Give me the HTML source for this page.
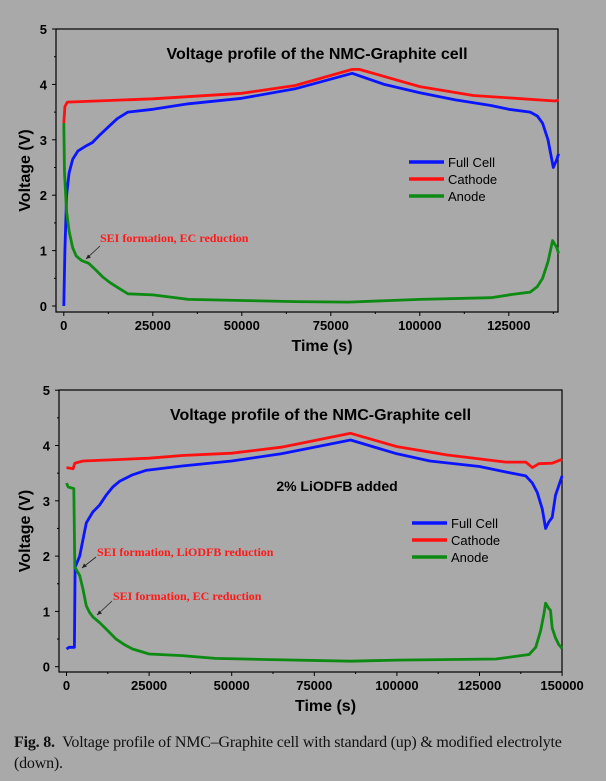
<!DOCTYPE html>
<html><head><meta charset="utf-8"><style>
body{margin:0;background:#a9a9a9;width:606px;height:781px;overflow:hidden}
svg{position:absolute;left:0;top:0}
.cap{position:absolute;left:14px;top:732px;width:585px;font:16px "Liberation Serif",serif;line-height:21px;color:#111;letter-spacing:-0.2px}
</style></head><body>
<svg id="s" width="606" height="781"></svg>
<div class="cap"><b>Fig. 8.</b>&nbsp; Voltage profile of NMC–Graphite cell with standard (up) &amp; modified electrolyte (down).</div>
<script>
const yTicks=[0,1,2,3,4,5];
const xTicksTop=[0,25000,50000,75000,100000,125000];
const xTicksBot=[0,25000,50000,75000,100000,125000,150000];
const topFullT=[0,300,800,1500,2500,4000,6000,8000,10000,12000,15000,18000,25000,35000,50000,65000,81000,90000,100000,110000,120000,125000,131000,133000,134500,136000,137500,138500,139000];
const topFullV=[0,1.0,2.0,2.4,2.65,2.8,2.88,2.95,3.08,3.2,3.38,3.5,3.55,3.65,3.75,3.92,4.2,4.0,3.85,3.72,3.62,3.55,3.5,3.43,3.3,3.0,2.5,2.65,2.75];
const topCathT=[0,300,1000,25000,50000,65000,81000,83000,100000,115000,138000,139000];
const topCathV=[3.3,3.6,3.68,3.74,3.84,3.98,4.27,4.27,3.96,3.8,3.7,3.72];
const topAnT=[0,200,800,1500,2500,3500,5000,7000,9000,11000,13000,15500,18000,25000,35000,50000,65000,80000,100000,120000,126000,131000,133000,134500,136000,137300,138500,139000];
const topAnV=[3.3,2.4,1.7,1.35,1.05,0.9,0.82,0.77,0.65,0.52,0.42,0.32,0.22,0.2,0.12,0.1,0.08,0.07,0.12,0.15,0.21,0.25,0.35,0.5,0.8,1.18,1.05,0.95];
const botFullT=[0,800,2400,2600,4000,5000,6000,8000,10000,12000,14000,16000,20000,24000,35000,50000,65000,86000,100000,110000,125000,133000,139000,141000,142500,144000,145000,146000,147000,148000,150000];
const botFullV=[0.32,0.35,0.35,1.8,2.0,2.3,2.6,2.8,2.92,3.1,3.25,3.35,3.47,3.55,3.63,3.72,3.85,4.1,3.85,3.72,3.62,3.52,3.45,3.32,3.15,2.85,2.5,2.62,2.7,3.1,3.45];
const botCathT=[0,2000,2500,5000,25000,35000,50000,65000,86000,100000,115000,133000,139000,141000,143000,147000,150000];
const botCathV=[3.6,3.58,3.68,3.72,3.77,3.82,3.86,3.97,4.22,3.98,3.83,3.7,3.7,3.6,3.67,3.68,3.75];
const botAnT=[0,500,2200,2500,4000,5000,6000,7000,8000,10000,12500,15000,17500,20000,25000,35000,45000,60000,86000,100000,130000,140000,142000,143500,144500,145000,146000,146500,147000,148000,149000,150000];
const botAnV=[3.32,3.25,3.22,1.8,1.65,1.4,1.1,0.98,0.9,0.8,0.65,0.5,0.4,0.32,0.23,0.2,0.15,0.13,0.1,0.12,0.14,0.22,0.35,0.65,0.95,1.15,1.05,1.02,0.7,0.52,0.4,0.33];

const S=document.getElementById('s');const NS='http://www.w3.org/2000/svg';
function mk(tag,at,txt){const e=document.createElementNS(NS,tag);for(const k in at)e.setAttribute(k,at[k]);if(txt!==undefined)e.textContent=txt;S.appendChild(e);return e;}
const SANS='font-family:"Liberation Sans",sans-serif;font-weight:bold;';
function chart(c){
 const X=t=>c.x0+(t/25000)*c.px25, Y=v=>c.y0-v*c.pv;
 const frame=mk('rect',{x:c.L,y:c.T,width:c.R-c.L,height:c.B-c.T,fill:'none',stroke:'#000','stroke-width':1.2});
 
 
 yTicks.forEach(v=>{const y=Y(v);mk('line',{x1:c.L-4,x2:c.L,y1:y,y2:y,stroke:'#000'});
  if(v<5)mk('line',{x1:c.L-2,x2:c.L,y1:Y(v+0.5),y2:Y(v+0.5),stroke:'#000'});
  const t=mk('text',{x:c.L-9,y:y+5,'text-anchor':'end',style:SANS+'font-size:13px'},v);
  
  });
 c.xt.forEach(v=>{const x=X(v);mk('line',{x1:x,x2:x,y1:c.B,y2:c.B+4,stroke:'#000'});
  if(X(v+12500)<c.R)mk('line',{x1:X(v+12500),x2:X(v+12500),y1:c.B,y2:c.B+2,stroke:'#000'});
  const t=mk('text',{x:x,y:c.B+18,'text-anchor':'middle',style:SANS+'font-size:13px'},v);
  
  });
 const yl=mk('text',{x:0,y:0,transform:`translate(30,${(c.T+c.B)/2}) rotate(-90)`,'text-anchor':'middle',style:SANS+'font-size:16px'},'Voltage (V)');
 
 
 const xl=mk('text',{x:(c.L+c.R)/2+15,y:c.B+39,'text-anchor':'middle',style:SANS+'font-size:16px'},'Time (s)');
 
 
 const ti=mk('text',{x:(c.L+c.R)/2+10,y:c.T+30,'text-anchor':'middle',style:SANS+'font-size:16px'},'Voltage profile of the NMC-Graphite cell');
 
 
 const ser=[['full-cell',c.full,'#0a14ff'],['cathode',c.cath,'#ff1010'],['anode',c.an,'#0d8a12']];
 [ser[1],ser[0],ser[2]].forEach(s=>{const d=s[1][0].map((t,i)=>(i?'L':'M')+X(t).toFixed(1)+','+Y(s[1][1][i]).toFixed(1)).join('');
  const p=mk('path',{d:d,fill:'none',stroke:s[2],'stroke-width':2.8,'stroke-linejoin':'round'});
  
  });
 ser.forEach((s,i)=>{const y=c.lgY+i*17;mk('line',{x1:c.lgX,x2:c.lgX+35,y1:y,y2:y,stroke:s[2],'stroke-width':3.5});
  const t=mk('text',{x:c.lgX+39,y:y+5,style:'font-family:"Liberation Sans",sans-serif;font-size:13px'},['Full Cell','Cathode','Anode'][i]);
  
  });
 c.ann.forEach(a=>{const t=mk('text',{x:a[0],y:a[1],fill:'#ff1a1a',style:'font-family:"Liberation Serif",serif;font-weight:bold;font-size:12px'},a[2]);
  
  
  mk('line',{x1:a[3],y1:a[4],x2:a[5],y2:a[6],stroke:'#222','stroke-width':0.8});
  mk('path',{d:`M${a[5]},${a[6]} l5,-1.5 l-3,-3 z`,fill:'#222'});});
}
chart({id:'top',L:56,R:558,T:29,B:312,x0:63.8,px25:89,y0:306,pv:55.4,xt:xTicksTop,
 full:[topFullT,topFullV],cath:[topCathT,topCathV],an:[topAnT,topAnV],lgX:409,lgY:162,
 ann:[[100,242,'SEI formation, EC reduction',100,246,86,259]]});
chart({id:'bottom',L:59,R:562,T:390,B:672,x0:66.5,px25:82.6,y0:666.7,pv:55.3,xt:xTicksBot,
 full:[botFullT,botFullV],cath:[botCathT,botCathV],an:[botAnT,botAnV],lgX:412,lgY:523,
 ann:[[97,556,'SEI formation, LiODFB reduction',96,557,82,568],[113,600,'SEI formation, EC reduction',112,601,97,615]]});
const n=mk('text',{x:337,y:491,'text-anchor':'middle',style:SANS+'font-size:14px'},'2% LiODFB added');


</script>
</body></html>
